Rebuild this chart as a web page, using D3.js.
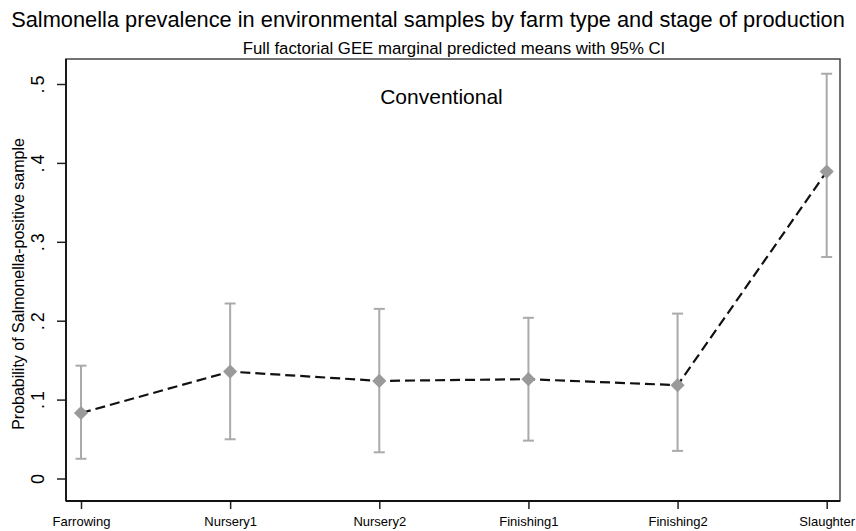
<!DOCTYPE html>
<html><head><meta charset="utf-8">
<script src="https://cdn.jsdelivr.net/npm/d3@7"></script>
<style>body{margin:0;background:#fff}svg{display:block;font-family:"Liberation Sans",Arial,sans-serif}</style>
</head><body>
<svg id="c" width="856" height="531"></svg>
<script>
const categories = ["Farrowing","Nursery1","Nursery2","Finishing1","Finishing2","Slaughter"];
const means = [0.083, 0.1355, 0.1237, 0.1259, 0.1183, 0.389];
const lower = [0.025, 0.0497, 0.0332, 0.048, 0.035, 0.2807];
const upper = [0.143, 0.2218, 0.215, 0.2037, 0.209, 0.513];
const yTicks = [0, 0.1, 0.2, 0.3, 0.4, 0.5];
const yTickLabels = ["0", ".1", ".2", ".3", ".4", ".5"];

const svg = d3.select("#c");
const box = {l:66, r:840, t:59, b:501};
const x = d3.scalePoint().domain(categories).range([81, 826.7]);
const y = d3.scaleLinear().domain([0, 0.5]).range([478.5, 84]);

svg.append("rect").attr("width",856).attr("height",531).attr("fill","#fff");

// title
svg.append("text").attr("x",428).attr("y",27).attr("text-anchor","middle")
  .attr("font-size",21.8).attr("fill","#000")
  .text("Salmonella prevalence in environmental samples by farm type and stage of production");
svg.append("text").attr("x",454).attr("y",54).attr("text-anchor","middle")
  .attr("font-size",16.8).attr("fill","#000")
  .text("Full factorial GEE marginal predicted means with 95% CI");

// plot border
svg.append("rect").attr("x",box.l).attr("y",box.t).attr("width",box.r-box.l).attr("height",box.b-box.t)
  .attr("fill","none").attr("stroke","#444").attr("stroke-width",1.5);

// y axis
const yAxis = d3.axisLeft(y).tickValues(yTicks).tickFormat((d,i)=>yTickLabels[i]).tickSize(9).tickPadding(0);
const ga = svg.append("g").attr("transform",`translate(${box.l},0)`).call(yAxis);
ga.select(".domain").remove();
ga.selectAll(".tick line").attr("stroke","#222").attr("stroke-width",1.5);
ga.selectAll(".tick text").attr("font-size",18).attr("fill","#000").attr("letter-spacing",3)
  .attr("text-anchor","middle").attr("dy",null)
  .attr("transform",d=>`translate(-28,0) rotate(-90) translate(1.5,6)`).attr("x",0);
svg.append("line").attr("x1",box.l).attr("x2",box.l).attr("y1",box.t).attr("y2",box.b)
  .attr("stroke","#111").attr("stroke-width",1.8);

// x axis
const xAxis = d3.axisBottom(x).tickSize(8).tickPadding(8);
const gx = svg.append("g").attr("transform",`translate(0,${box.b})`).call(xAxis);
gx.select(".domain").remove();
gx.selectAll(".tick line").attr("stroke","#222").attr("stroke-width",1.5);
gx.selectAll(".tick text").attr("font-size",13).attr("fill","#000");
svg.append("line").attr("x1",box.l).attr("x2",box.r).attr("y1",box.b).attr("y2",box.b)
  .attr("stroke","#111").attr("stroke-width",1.8);

// y title
svg.append("text").attr("transform",`translate(24,284) rotate(-90)`)
  .attr("text-anchor","middle").attr("font-size",16).attr("fill","#000")
  .text("Probability of Salmonella-positive sample");

// panel label
svg.append("text").attr("x",441.5).attr("y",104).attr("text-anchor","middle")
  .attr("font-size",21).attr("fill","#000").text("Conventional");

const data = categories.map((c,i)=>({c, m:means[i], lo:lower[i], hi:upper[i]}));

// CI
const ci = svg.append("g").attr("stroke","#aaaaaa").attr("stroke-width",2);
data.forEach(d=>{
  const cx = x(d.c);
  ci.append("line").attr("x1",cx).attr("x2",cx).attr("y1",y(d.lo)).attr("y2",y(d.hi));
  ci.append("line").attr("x1",cx-5.5).attr("x2",cx+5.5).attr("y1",y(d.lo)).attr("y2",y(d.lo));
  ci.append("line").attr("x1",cx-5.5).attr("x2",cx+5.5).attr("y1",y(d.hi)).attr("y2",y(d.hi));
});

// line
svg.append("path").datum(data)
  .attr("d", d3.line().x(d=>x(d.c)).y(d=>y(d.m)))
  .attr("fill","none").attr("stroke","#111").attr("stroke-width",2.2)
  .attr("stroke-dasharray","10,5");

// markers
svg.append("g").selectAll("path").data(data).join("path")
  .attr("d", d3.symbol().type(d3.symbolSquare).size(100))
  .attr("transform", d=>`translate(${x(d.c)},${y(d.m)}) rotate(45)`)
  .attr("fill","#9a9a9a");
</script>
</body></html>
